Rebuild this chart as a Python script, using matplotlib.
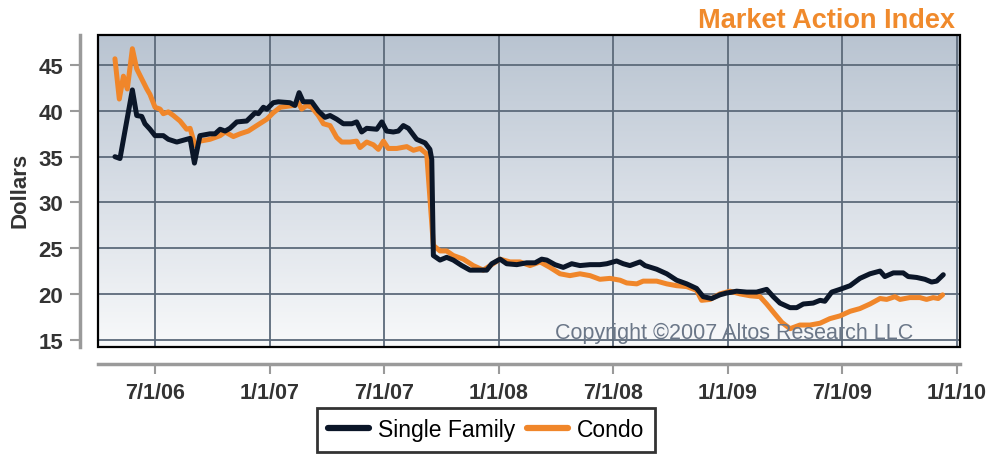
import numpy as np
import matplotlib
matplotlib.use("Agg")
import matplotlib.pyplot as plt
from matplotlib.colors import LinearSegmentedColormap
from matplotlib.patches import Rectangle

plt.rcParams['font.family'] = ['Liberation Sans', 'DejaVu Sans']

# ---- data (decimal years, dollars) ----
sf_t = [2006.325, 2006.347, 2006.401, 2006.420, 2006.442, 2006.456, 2006.478, 2006.500,
        2006.536, 2006.558, 2006.595, 2006.638, 2006.653, 2006.672, 2006.696, 2006.740,
        2006.762, 2006.784, 2006.806, 2006.827, 2006.857, 2006.900, 2006.937, 2006.951,
        2006.973, 2006.988, 2007.016, 2007.038, 2007.089, 2007.111, 2007.129, 2007.147,
        2007.184, 2007.213, 2007.242, 2007.264, 2007.293, 2007.322, 2007.359, 2007.380,
        2007.402, 2007.424, 2007.468, 2007.490, 2007.511, 2007.540, 2007.562, 2007.584,
        2007.606, 2007.642, 2007.679, 2007.700, 2007.708, 2007.715, 2007.744, 2007.773,
        2007.802, 2007.839, 2007.875, 2007.948, 2007.970, 2008.006, 2008.035, 2008.079,
        2008.122, 2008.159, 2008.188, 2008.210, 2008.246, 2008.282, 2008.319, 2008.355,
        2008.399, 2008.442, 2008.472, 2008.515, 2008.544, 2008.573, 2008.617, 2008.639,
        2008.690, 2008.734, 2008.777, 2008.821, 2008.864, 2008.893, 2008.930, 2008.966,
        2008.995, 2009.039, 2009.083, 2009.126, 2009.170, 2009.199, 2009.228, 2009.272,
        2009.301, 2009.330, 2009.373, 2009.403, 2009.424, 2009.454, 2009.490, 2009.534,
        2009.577, 2009.621, 2009.665, 2009.686, 2009.723, 2009.766, 2009.788, 2009.825,
        2009.861, 2009.890, 2009.912, 2009.941]
sf_v = [35.0, 34.8, 42.3, 39.5, 39.4, 38.6, 38.0, 37.3,
        37.3, 36.9, 36.6, 36.9, 37.0, 34.3, 37.3, 37.5,
        37.5, 38.0, 37.8, 38.1, 38.8, 38.9, 39.8, 39.7,
        40.4, 40.2, 40.9, 41.0, 40.9, 40.6, 42.0, 41.0,
        41.0, 40.0, 39.3, 39.5, 39.1, 38.6, 38.6, 38.8,
        37.7, 38.1, 38.0, 38.8, 37.8, 37.7, 37.8, 38.4,
        38.1, 36.9, 36.5, 35.8, 34.7, 24.2, 23.7, 24.0,
        23.7, 23.1, 22.6, 22.6, 23.3, 23.8, 23.3, 23.2,
        23.4, 23.4, 23.8, 23.7, 23.2, 22.9, 23.3, 23.1,
        23.2, 23.2, 23.3, 23.6, 23.3, 23.1, 23.5, 23.1,
        22.7, 22.2, 21.5, 21.1, 20.6, 19.7, 19.5, 19.9,
        20.1, 20.3, 20.2, 20.2, 20.5, 19.7, 19.0, 18.5,
        18.5, 18.9, 19.0, 19.3, 19.2, 20.2, 20.5, 20.9,
        21.7, 22.2, 22.5, 21.9, 22.3, 22.3, 21.9, 21.8,
        21.6, 21.3, 21.4, 22.1]

condo_t = [2006.325, 2006.344, 2006.362, 2006.379, 2006.401, 2006.420, 2006.442, 2006.464,
           2006.478, 2006.500, 2006.522, 2006.536, 2006.558, 2006.580, 2006.609, 2006.638,
           2006.653, 2006.675, 2006.696, 2006.740, 2006.784, 2006.806, 2006.842, 2006.871,
           2006.907, 2006.944, 2006.988, 2007.016, 2007.046, 2007.104, 2007.126, 2007.140,
           2007.162, 2007.184, 2007.213, 2007.235, 2007.264, 2007.293, 2007.315, 2007.351,
           2007.380, 2007.395, 2007.424, 2007.453, 2007.475, 2007.497, 2007.518, 2007.555,
           2007.599, 2007.628, 2007.657, 2007.686, 2007.715, 2007.744, 2007.773, 2007.802,
           2007.846, 2007.889, 2007.933, 2008.006, 2008.050, 2008.093, 2008.137, 2008.181,
           2008.224, 2008.268, 2008.311, 2008.355, 2008.399, 2008.442, 2008.486, 2008.530,
           2008.559, 2008.603, 2008.631, 2008.690, 2008.734, 2008.777, 2008.821, 2008.864,
           2008.886, 2008.923, 2008.966, 2009.010, 2009.054, 2009.097, 2009.141, 2009.170,
           2009.206, 2009.236, 2009.272, 2009.315, 2009.359, 2009.403, 2009.446, 2009.490,
           2009.534, 2009.577, 2009.621, 2009.665, 2009.694, 2009.730, 2009.752, 2009.795,
           2009.839, 2009.868, 2009.897, 2009.919, 2009.938]
condo_v = [45.7, 41.3, 43.8, 42.4, 46.8, 44.6, 43.5, 42.4,
           41.8, 40.4, 40.2, 39.7, 39.9, 39.5, 38.9, 38.0,
           38.1, 36.2, 36.7, 36.9, 37.3, 37.7, 37.2, 37.5,
           37.8, 38.4, 39.1, 39.8, 40.4, 40.6, 40.9, 40.2,
           40.6, 40.4, 39.5, 38.6, 38.4, 37.1, 36.6, 36.6,
           36.7, 36.0, 36.6, 36.3, 35.8, 36.7, 35.9, 35.9,
           36.1, 35.7, 35.9, 35.3, 25.3, 24.7, 24.7, 24.2,
           23.8, 23.1, 22.6, 23.8, 23.5, 23.5, 23.1, 23.5,
           22.9, 22.2, 22.0, 22.2, 22.0, 21.6, 21.7, 21.5,
           21.2, 21.1, 21.4, 21.4, 21.1, 20.9, 20.8, 20.4,
           19.3, 19.4, 20.0, 20.3, 20.0, 19.8, 19.7, 18.9,
           17.8, 16.9, 16.2, 16.6, 16.6, 16.8, 17.3, 17.6,
           18.1, 18.4, 18.9, 19.5, 19.4, 19.7, 19.4, 19.6,
           19.6, 19.4, 19.6, 19.5, 19.9]

x_ticks = [2006.5, 2007.0, 2007.5, 2008.0, 2008.5, 2009.0, 2009.5, 2010.0]
x_labels = ['7/1/06', '1/1/07', '7/1/07', '1/1/08', '7/1/08', '1/1/09', '7/1/09', '1/1/10']
y_ticks = [15, 20, 25, 30, 35, 40, 45]

title = 'Market Action Index'
ylabel = 'Dollars'
copyright_text = 'Copyright \u00a92007 Altos Research LLC'
names = ['Single Family', 'Condo']

# ---- figure ----
W, H = 988, 456
fig = plt.figure(figsize=(W / 100, H / 100), dpi=100)
fig.patch.set_facecolor('white')
left, right, top, bottom = 98, 960, 36, 348
ax = fig.add_axes([left / W, 1 - bottom / H, (right - left) / W, (bottom - top) / H])

xlim = (2006.251, 2010.014)
ylim = (14.2, 48.3)

grad_cmap = LinearSegmentedColormap.from_list('bg', ['#b9c4d1', '#d8dee6', '#f8f9fa'])
ax.imshow(np.linspace(0, 1, 256).reshape(-1, 1), cmap=grad_cmap, aspect='auto',
          extent=[xlim[0], xlim[1], ylim[0], ylim[1]], origin='upper', zorder=0,
          interpolation='bilinear')

for xt in x_ticks:
    ax.axvline(xt, color='#5c6a7a', lw=1.3, zorder=1)
for yt in y_ticks:
    ax.axhline(yt, color='#5c6a7a', lw=1.3, zorder=1)

ax.plot(condo_t, condo_v, color='#f0862a', lw=3.6, solid_joinstyle='round',
        solid_capstyle='round', zorder=3, label=names[1])
ax.plot(sf_t, sf_v, color='#0b1628', lw=3.6, solid_joinstyle='round',
        solid_capstyle='round', zorder=4, label=names[0])

ax.set_xlim(*xlim)
ax.set_ylim(*ylim)

for s in ['top', 'right']:
    ax.spines[s].set_visible(False)
ax.spines['left'].set_position(('outward', 13))
ax.spines['bottom'].set_position(('outward', 12))
for s in ['left', 'bottom']:
    ax.spines[s].set_color('#9a9a9a')
    ax.spines[s].set_linewidth(2.5)

ax.add_patch(Rectangle((0, 0), 1, 1, transform=ax.transAxes, fill=False,
                       ec='black', lw=1.6, clip_on=False, zorder=6))

ax.set_xticks(x_ticks)
ax.set_xticklabels(x_labels)
ax.set_yticks(y_ticks)
ax.tick_params(axis='both', colors='#9a9a9a', length=7, width=1.5,
               labelcolor='#333333', labelsize=15.5)
ax.tick_params(axis='x', pad=6)
ax.tick_params(axis='y', pad=5, labelsize=16)
for lab in ax.get_xticklabels() + ax.get_yticklabels():
    lab.set_fontweight('bold')

fig.text(20 / W, 1 - 190 / H, ylabel, rotation=90, ha='center', va='center',
         fontsize=16, fontweight='bold', color='#333333')

fig.text(913 / W, 1 - 333 / H, copyright_text, ha='right', va='center',
         fontsize=15.5, color='#6b7788', zorder=7)

fig.text(955 / W, 1 - 21 / H, title, ha='right', va='center', fontsize=19.5,
         fontweight='bold', color='#f08a2c')

h, l = ax.get_legend_handles_labels()
leg = fig.legend(h[::-1], l[::-1], loc='center', bbox_to_anchor=(486 / W, 1 - 431 / H),
                 ncol=2, frameon=True, fancybox=False, fontsize=16.5,
                 handlelength=1.8, handletextpad=0.4, columnspacing=0.5,
                 borderpad=0.45, borderaxespad=0)
leg.get_frame().set_edgecolor('black')
leg.get_frame().set_linewidth(2)
for line in leg.get_lines():
    line.set_linewidth(4.5)

fig.savefig('out.png', dpi=100, facecolor='white')
